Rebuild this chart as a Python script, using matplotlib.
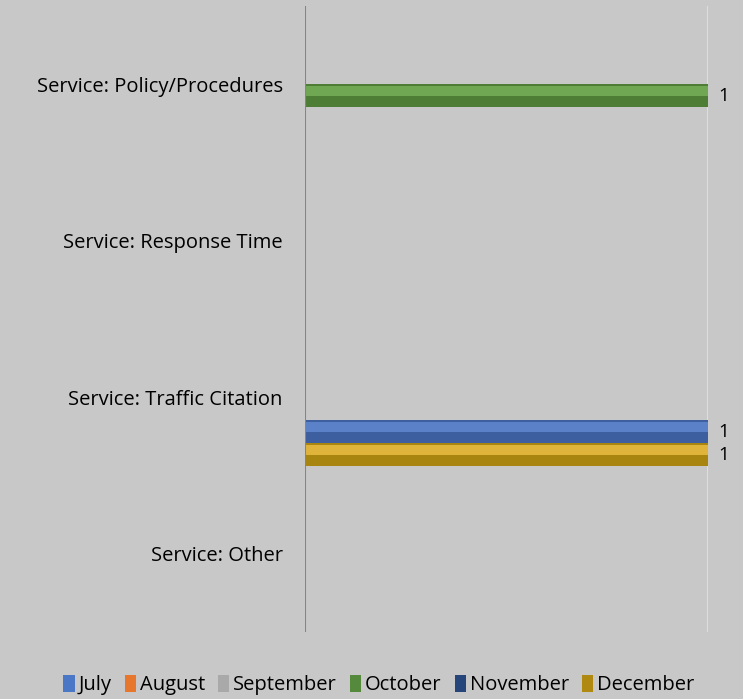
import matplotlib
matplotlib.use("Agg")
import matplotlib.pyplot as plt
import numpy as np
from matplotlib.patches import Patch

categories = ["Service: Policy/Procedures", "Service: Response Time",
              "Service: Traffic Citation", "Service: Other"]
series = ["July", "August", "September", "October", "November", "December"]
values = {
    "July":      [0, 0, 0, 0],
    "August":    [0, 0, 0, 0],
    "September": [0, 0, 0, 0],
    "October":   [1, 0, 0, 0],
    "November":  [0, 0, 1, 0],
    "December":  [0, 0, 1, 0],
}
light = {"July": "#5b84cc", "August": "#ee8a45", "September": "#b5b5b5",
         "October": "#6fa752", "November": "#5b82c8", "December": "#e0b43a"}
dark = {"July": "#3d64a8", "August": "#c8641f", "September": "#8f8f8f",
        "October": "#4e7d35", "November": "#3d5f9f", "December": "#a8850f"}
legend_colors = {"July": "#4a78c6", "August": "#e8772e", "September": "#a9a9a9",
                 "October": "#558a3c", "November": "#26457a", "December": "#b08a10"}

bg = "#c8c8c8"
plt.rcParams['font.family'] = ['Open Sans', 'DejaVu Sans']
fig = plt.figure(figsize=(7.43, 6.99), dpi=100, facecolor=bg)
ax = fig.add_axes([305/743, 1-632/699, (708-305)/743, (632-6)/699])
ax.set_facecolor(bg)

y = np.arange(len(categories))
h = 0.1474
for j, s in enumerate(series):
    v = np.array(values[s], dtype=float)
    off = (j - 2.5) * h
    ax.barh(y + off, v, height=h, color=dark[s], edgecolor="none", zorder=3)
    ax.barh(y + off - h * 0.22, v, height=h * 0.45, color=light[s], edgecolor="none", zorder=4)
    for yi, vi in zip(y, v):
        if vi > 0:
            ax.text(vi + 0.025, yi + off, f"{int(vi)}", va="center", ha="left",
                    fontsize=13.5, color="black")

ax.set_xlim(0, 1)
ax.set_ylim(len(categories) - 0.5, -0.5)
ax.axvline(1, color="#dedede", lw=1.5, zorder=1)
ax.axvline(0, color="#858585", lw=1.5, zorder=6)
for sp in ax.spines.values():
    sp.set_visible(False)
ax.set_xticks([])
ax.set_yticks(y)
ax.set_yticklabels(categories, fontsize=14.5)
ax.tick_params(axis="y", length=0, pad=16)

handles = [Patch(facecolor=legend_colors[s], edgecolor="none") for s in series]
fig.legend(handles, series, loc="center", bbox_to_anchor=(0.51, 1-685/699), ncol=6,
           frameon=False, fontsize=14.5, handlelength=0.55, handleheight=0.9,
           handletextpad=0.2, columnspacing=0.65)

fig.savefig("out.png", dpi=100, facecolor=bg)
